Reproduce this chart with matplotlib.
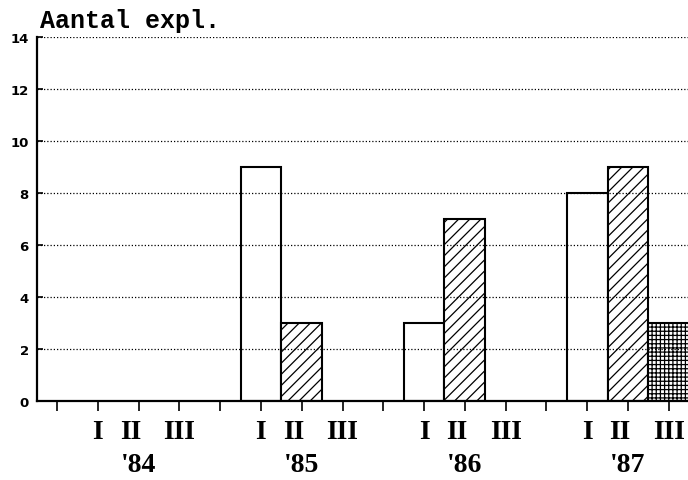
import matplotlib
matplotlib.use('Agg')
import matplotlib.pyplot as plt
import numpy as np

years = ["'84", "'85", "'86", "'87"]
quarters = ['I', 'II', 'III']
q1 = [0, 9, 3, 8]
q2 = [0, 3, 7, 9]
q3 = [0, 0, 0, 3]
y_ticks = [0, 2, 4, 6, 8, 10, 12, 14]

hatches = ['', '///', '++++']
series = [q1, q2, q3]

fig = plt.figure(figsize=(6.88, 4.81), dpi=100)
ax = fig.add_axes([37 / 688, 79 / 481, 651 / 688, 364 / 481])

plt.rcParams['hatch.linewidth'] = 0.9

# each year takes 4 slots: I, II, III and an empty one
slot = 4
for q in range(3):
    xs = [1 + slot * g + q for g in range(len(years))]
    for x, v in zip(xs, series[q]):
        if v > 0:
            ax.bar(x, v, width=1.0, facecolor='white', edgecolor='black',
                   linewidth=1.5, hatch=hatches[q], zorder=2)

ax.set_xlim(-0.49, 15.47)
ax.set_ylim(0, 14)

ax.set_yticks(y_ticks)
ax.set_yticklabels([str(t) for t in y_ticks], fontfamily='DejaVu Sans',
                   fontweight='bold', fontsize=9.5)
ax.tick_params(axis='y', length=4, direction='in', width=1.2, pad=6)
for t in y_ticks[1:]:
    ax.axhline(t, color='black', linestyle=(0, (1, 1.6)), linewidth=0.9, zorder=3)

ax.set_xticks(np.arange(0, 16))
ax.set_xticklabels([])
ax.tick_params(axis='x', length=7, direction='out', width=1.2)

for s in ['top', 'right']:
    ax.spines[s].set_visible(False)
for s in ['left', 'bottom']:
    ax.spines[s].set_linewidth(1.6)

offsets = [0.0, -0.2, 0.0]
for g, yr in enumerate(years):
    for q, name in enumerate(quarters):
        ax.annotate(name, xy=(1 + slot * g + q + offsets[q], 0),
                    xycoords=('data', 'axes fraction'),
                    xytext=(0, -22), textcoords='offset points',
                    ha='center', va='center', fontfamily='Liberation Serif',
                    fontweight='bold', fontsize=20)
    ax.annotate(yr, xy=(2 + slot * g, 0), xycoords=('data', 'axes fraction'),
                xytext=(0, -46), textcoords='offset points',
                ha='center', va='center', fontfamily='Liberation Serif',
                fontweight='bold', fontsize=20)

fig.text(40 / 688, 1 - 21 / 481, 'Aantal expl.', ha='left', va='center',
         fontfamily='Liberation Mono', fontweight='bold', fontsize=18)

fig.savefig('out.png', dpi=100)
